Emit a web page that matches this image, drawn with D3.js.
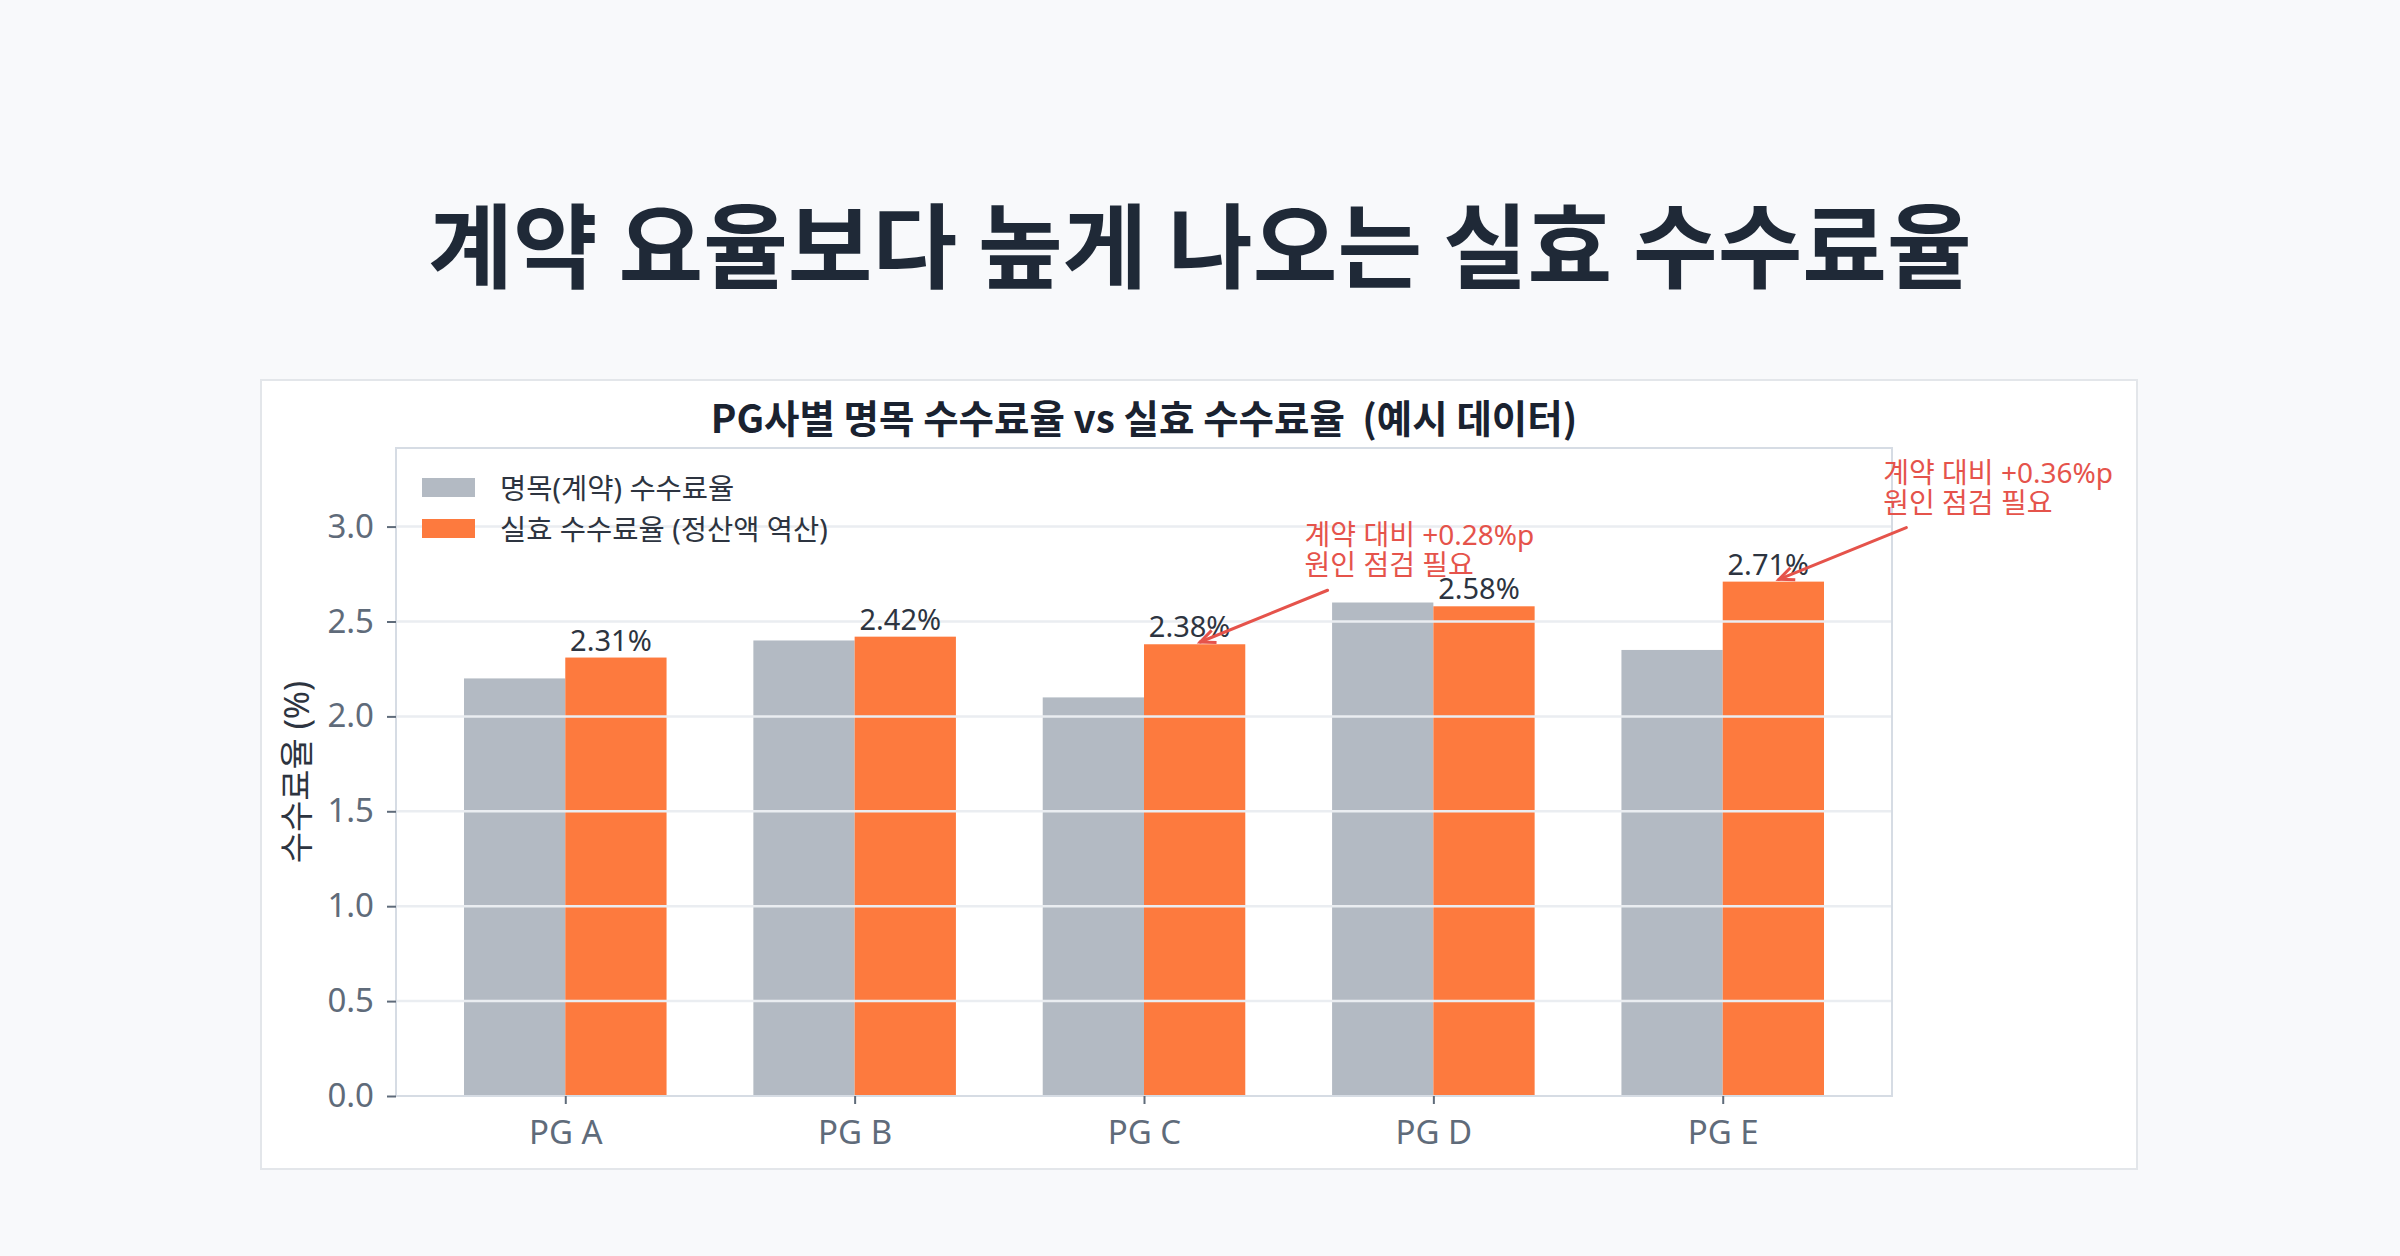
<!DOCTYPE html>
<html><head><meta charset="utf-8">
<script src="https://cdn.jsdelivr.net/npm/d3@7"></script>
<style>html,body{margin:0;padding:0;background:#f8f9fb;} svg{display:block;}</style>
</head><body><svg id="c" width="2400" height="1256"></svg>
<script>
// ---- data ----
const categories = ["PG A", "PG B", "PG C", "PG D", "PG E"];
const nominalRates = [2.20, 2.40, 2.10, 2.60, 2.35];
const effectiveRates = [2.31, 2.42, 2.38, 2.58, 2.71];
const yTickValues = [0, 0.5, 1.0, 1.5, 2.0, 2.5, 3.0];
const seriesNames = ["명목(계약) 수수료율", "실효 수수료율 (정산액 역산)"];
const annotatedIndex = [2, 4];
const annotationLines = [["계약 대비 +0.28%p", "원인 점검 필요"], ["계약 대비 +0.36%p", "원인 점검 필요"]];
const mainTitle = "계약 요율보다 높게 나오는 실효 수수료율";
const chartTitle = "PG사별 명목 수수료율 vs 실효 수수료율  (예시 데이터)";
const yLabel = "수수료율 (%)";

// ---- styles ----
const FONT = "'Noto Sans', 'Noto Sans CJK KR', sans-serif";
const CJK = "'Noto Sans CJK KR', 'Noto Sans', sans-serif";
const colors = ["#b3bac3", "#fd7a3e"];
const red = "#e5534b";
const tickColor = "#5f6b7a";
const textDark = "#2d3440";

const svg = d3.select("#c");
svg.append("rect").attr("width", 2400).attr("height", 1256).attr("fill", "#f8f9fb");

svg.append("text").attr("x", 1200).attr("y", 281).attr("text-anchor", "middle")
  .attr("font-family", CJK).attr("font-weight", 700).attr("font-size", 92)
  .attr("fill", "#1f2937").text(mainTitle);

// card
svg.append("rect").attr("x", 261).attr("y", 380).attr("width", 1876).attr("height", 789)
  .attr("fill", "#ffffff").attr("stroke", "#e3e6ea").attr("stroke-width", 2);

const plot = {l: 396, r: 1892, t: 448, b: 1096};
const x = d3.scaleLinear().domain([-0.585, categories.length - 1 + 0.585]).range([plot.l, plot.r]);
const y = d3.scaleLinear().domain([0, 3.414]).range([plot.b, plot.t]);
const bw = 0.35;

// chart title
svg.append("text").attr("x", (plot.l + plot.r) / 2).attr("y", 433).attr("text-anchor", "middle")
  .attr("font-family", CJK).attr("font-weight", 700).attr("font-size", 38.5)
  .attr("fill", "#1a2230").style("white-space", "pre").text(chartTitle);

// bars
const series = [nominalRates, effectiveRates];
series.forEach((vals, s) => {
  svg.append("g").selectAll("rect").data(vals).join("rect")
    .attr("x", (d, i) => x(i + (s === 0 ? -bw : 0)))
    .attr("width", (d, i) => x(bw) - x(0))
    .attr("y", d => y(d))
    .attr("height", d => y(0) - y(d))
    .attr("fill", colors[s]);
});

// grid (drawn on top of bars)
svg.append("g").selectAll("line").data(yTickValues.filter(v => v > 0)).join("line")
  .attr("x1", plot.l).attr("x2", plot.r)
  .attr("y1", d => y(d)).attr("y2", d => y(d))
  .attr("stroke", "#eaedf1").attr("stroke-width", 2.5);

// frame
svg.append("rect").attr("x", plot.l).attr("y", plot.t).attr("width", plot.r - plot.l)
  .attr("height", plot.b - plot.t).attr("fill", "none").attr("stroke", "#d6dce4").attr("stroke-width", 2);

// y axis
const yAxis = d3.axisLeft(y).tickValues(yTickValues).tickFormat(d3.format(".1f")).tickSize(9).tickPadding(13);
const gy = svg.append("g").attr("transform", `translate(${plot.l},0)`).call(yAxis);
gy.select(".domain").remove();
gy.selectAll(".tick line").attr("stroke", tickColor).attr("stroke-width", 2);
gy.selectAll(".tick text").attr("font-family", FONT).attr("font-size", 33).attr("fill", tickColor);

// x axis
const xAxis = d3.axisBottom(x).tickValues(d3.range(categories.length)).tickFormat(i => categories[i]).tickSize(8).tickPadding(17);
const gx = svg.append("g").attr("transform", `translate(0,${plot.b})`).call(xAxis);
gx.select(".domain").remove();
gx.selectAll(".tick line").attr("stroke", tickColor).attr("stroke-width", 2);
gx.selectAll(".tick text").attr("font-family", FONT).attr("font-size", 33).attr("fill", tickColor);

// y label
svg.append("text").attr("transform", `translate(296,${(plot.t + plot.b) / 2}) rotate(-90)`)
  .attr("text-anchor", "middle").attr("dominant-baseline", "central")
  .attr("font-family", FONT).attr("font-size", 34).attr("fill", textDark).text(yLabel);

// value labels
svg.append("g").selectAll("text").data(effectiveRates).join("text")
  .attr("x", (d, i) => x(i + bw / 2) - 5).attr("y", d => y(d) - 7)
  .attr("text-anchor", "middle").attr("font-family", FONT).attr("font-size", 29)
  .attr("fill", textDark).text(d => d.toFixed(2) + "%");

// legend
const lg = svg.append("g");
seriesNames.forEach((name, s) => {
  const cy = 488 + s * 41;
  lg.append("rect").attr("x", 422).attr("y", cy - 10).attr("width", 53).attr("height", 19).attr("fill", colors[s]);
  lg.append("text").attr("x", 500).attr("y", cy).attr("dominant-baseline", "central")
    .attr("font-family", FONT).attr("font-size", 28.5).attr("fill", textDark).text(name);
});

// annotations
annotatedIndex.forEach((idx, k) => {
  const v = effectiveRates[idx];
  const tx = x(idx + bw / 2 + 0.38);
  const ty = y(v + 0.51) - 2;
  const t = svg.append("text").attr("font-family", FONT).attr("font-size", 28).attr("fill", red);
  annotationLines[k].forEach((line, j) => {
    t.append("tspan").attr("x", tx).attr("y", ty + j * 30).text(line);
  });
  const sx = tx + 23, sy = y(v) - 54;
  const px = x(idx + bw / 2), py = y(v);
  const dx = px - sx, dy = py - sy, len = Math.hypot(dx, dy);
  const ux = dx / len, uy = dy / len;
  const ex = px - ux * 6, ey = py - uy * 6;
  svg.append("line").attr("x1", sx).attr("y1", sy).attr("x2", ex).attr("y2", ey)
    .attr("stroke", red).attr("stroke-width", 3).attr("stroke-linecap", "round");
  const hl = 15, hw = 6.5;
  const bx = ex - ux * hl, by = ey - uy * hl;
  svg.append("path")
    .attr("d", `M${bx - uy * hw},${by + ux * hw} L${ex},${ey} L${bx + uy * hw},${by - ux * hw}`)
    .attr("fill", "none").attr("stroke", red).attr("stroke-width", 3).attr("stroke-linejoin", "miter");
});
</script></body></html>
